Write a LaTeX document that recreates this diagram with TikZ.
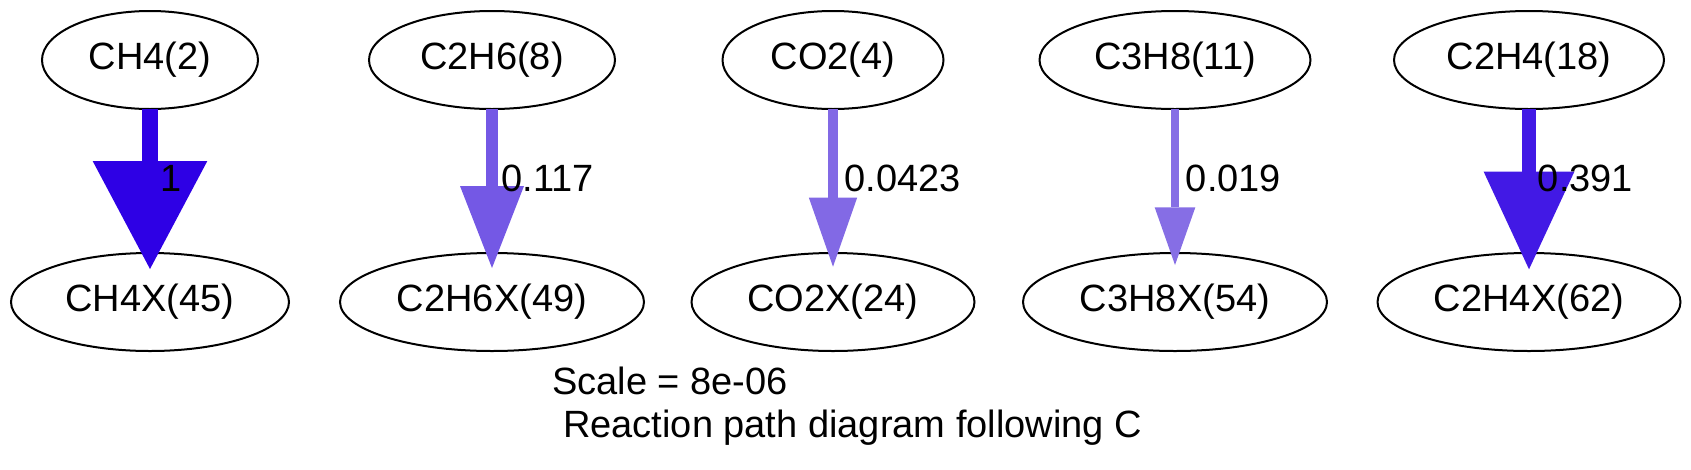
\documentclass[tikz,border=0pt]{standalone}
\usepackage{fontspec}
\setmainfont{Liberation Sans}
\usetikzlibrary{arrows.meta,shapes.geometric}
\definecolor{flux1}{RGB}{46,0,229}
\definecolor{flux2}{RGB}{116,88,229}
\definecolor{flux3}{RGB}{130,105,229}
\definecolor{flux4}{RGB}{134,110,229}
\definecolor{flux5}{RGB}{66,25,229}

\begin{document}
\begin{tikzpicture}[x=1pt,y=1pt,line cap=butt]
                \tikzstyle{species}=[ellipse,draw=black,line width=2pt,inner sep=0pt,outer sep=0pt,minimum height=98pt,font=\fontsize{38}{45}\selectfont]
                \tikzstyle{rate}=[anchor=base west,inner sep=0pt,font=\fontsize{38}{45}\selectfont]
                \useasboundingbox (0,0) rectangle (1691,-469);

                \foreach \num/\txt/\x/\w in {ch4/CH4(2)/150/216, c2h6/C2H6(8)/492/246, co2/CO2(4)/833/221, c3h8/C3H8(11)/1175/271, c2h4/C2H4(18)/1529/270}
                        \node[species,minimum width=\w pt] (S-\num) at (\x,-60) {\txt};
                \foreach \num/\txt/\x/\w in {ch4x/CH4X(45)/150/278, c2h6x/C2H6X(49)/492/304, co2x/CO2X(24)/833/283, c3h8x/C3H8X(54)/1175/304, c2h4x/C2H4X(62)/1529/303}
                        \node[species,minimum width=\w pt] (S-\num) at (\x,-302) {\txt};

                    \foreach \from/\to/\col/\lw/\hl/\hw/\sh/\lx/\val in {ch4/ch4x/flux1/16.7/108/114.7/16/160/1, c2h6/c2h6x/flux2/11.7/82/64/15/501.5/0.117, co2/co2x/flux3/10/69/48.3/13.7/844.5/0.0423, c3h8/c3h8x/flux4/7.7/57.7/40.7/12/1185.7/0.019, c2h4/c2h4x/flux5/14.3/97.6/90.7/16.3/1537.7/0.391}
                    {
                        \draw[draw=\col,line width=\lw pt,shorten >=-\sh pt,-{Triangle[length=\hl pt,width=\hw pt,line width=0pt]}] (S-\from) -- (S-\to);
                        \node[rate] (R-\from) at (\lx,-191) {\val};
                    }

                    \node[rate] (scale) at (552,-394) {Scale = 8e-06};
                    \node[rate] (title) at (563,-437) {Reaction path diagram following C};
            \end{tikzpicture}
\end{document}
